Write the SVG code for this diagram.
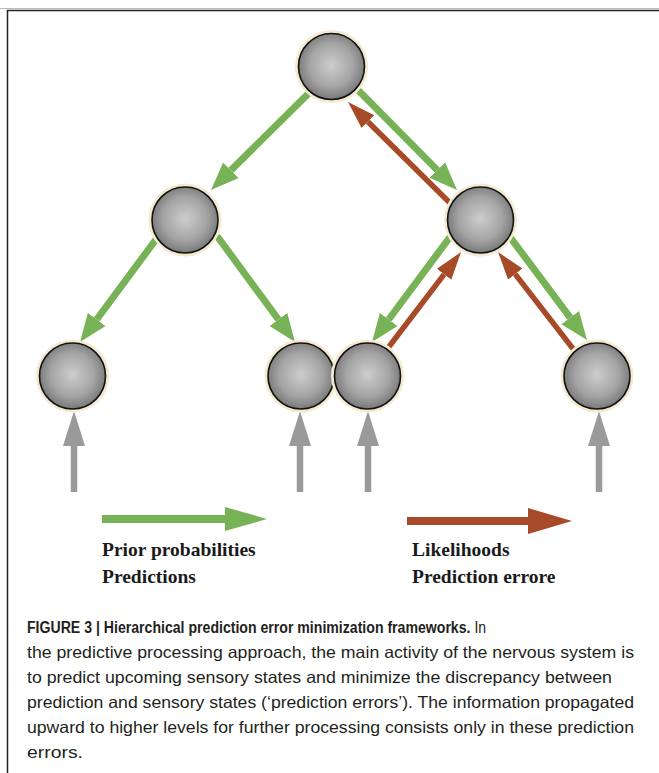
<svg xmlns="http://www.w3.org/2000/svg" width="659" height="773" viewBox="0 0 659 773">
<style>
.node{fill:url(#ball);stroke:#111;stroke-width:1.6}
.halo{fill:none;stroke:#f4ead0;stroke-width:4}
.g{stroke:#78b257;stroke-width:7;fill:none}
.b{stroke:#a64a28;stroke-width:5.5;fill:none}
.y{stroke:#9a9a9a;stroke-width:6.5;fill:none}
.leg{font-family:"Liberation Sans Narrow","Liberation Serif","Times New Roman",serif;font-weight:bold;font-size:19.5px;fill:#1a1a1a}
.cap{font-family:"Liberation Sans",Arial,sans-serif;font-size:16.5px;fill:#231f20}
.cap1{font-family:"Liberation Sans",Arial,sans-serif;font-size:17px;fill:#231f20}
</style>
<defs>
<radialGradient id="ball" cx="50%" cy="48%" r="55%">
<stop offset="0" stop-color="#cdcdcd"/>
<stop offset="0.6" stop-color="#a4a4a4"/>
<stop offset="1" stop-color="#727272"/>
</radialGradient>
<marker id="hg" markerUnits="userSpaceOnUse" markerWidth="30" markerHeight="24" refX="0" refY="11" orient="auto" viewBox="0 0 30 22">
<path d="M0,0 L28,11 L0,22 z" fill="#78b257"/>
</marker>
<marker id="hb" markerUnits="userSpaceOnUse" markerWidth="30" markerHeight="22" refX="0" refY="10" orient="auto" viewBox="0 0 30 20">
<path d="M0,1 L28,10 L0,19 z" fill="#a64a28"/>
</marker>
<marker id="hy" markerUnits="userSpaceOnUse" markerWidth="36" markerHeight="22" refX="0" refY="11" orient="auto" viewBox="0 0 36 22">
<path d="M0,0 L35,11 L0,22 z" fill="#9a9a9a"/>
</marker>
</defs>
<rect width="659" height="773" fill="#fff"/>
<line x1="0" y1="8.5" x2="659" y2="8.5" stroke="#bbb" stroke-width="1"/>
<path d="M7.5,773 V10.5 H659" fill="none" stroke="#222" stroke-width="1.5"/>

<g id="connectors">
<line class="g" x1="310" y1="92" x2="230.9" y2="170.3" marker-end="url(#hg)"/>
<line class="g" x1="358" y1="90" x2="437.3" y2="170.1" marker-end="url(#hg)"/>
<line class="g" x1="157" y1="238" x2="96.7" y2="319.5" marker-end="url(#hg)"/>
<line class="g" x1="217" y1="236" x2="278.4" y2="319.5" marker-end="url(#hg)"/>
<line class="g" x1="450" y1="237" x2="388.7" y2="319.5" marker-end="url(#hg)"/>
<line class="g" x1="510" y1="237" x2="570.2" y2="317.6" marker-end="url(#hg)"/>
<line class="b" x1="450" y1="203" x2="367.9" y2="121.7" marker-end="url(#hb)"/>
<line class="b" x1="388" y1="348" x2="444.1" y2="274.3" marker-end="url(#hb)"/>
<line class="b" x1="574" y1="350" x2="515.2" y2="274.1" marker-end="url(#hb)"/>
<line class="y" x1="74" y1="492" x2="74" y2="446" marker-end="url(#hy)"/>
<line class="y" x1="300" y1="492" x2="300" y2="446" marker-end="url(#hy)"/>
<line class="y" x1="368" y1="492" x2="368" y2="446" marker-end="url(#hy)"/>
<line class="y" x1="599" y1="492" x2="599" y2="446" marker-end="url(#hy)"/>
</g>

<g id="n-top"><circle class="halo" cx="331.5" cy="66.5" r="34.5"/><circle class="node" cx="331.5" cy="66.5" r="33"/></g>
<g id="n-midL"><circle class="halo" cx="185" cy="220" r="34.5"/><circle class="node" cx="185" cy="220" r="33"/></g>
<g id="n-midR"><circle class="halo" cx="480.5" cy="220" r="34.5"/><circle class="node" cx="480.5" cy="220" r="33"/></g>
<g id="n-b1"><circle class="halo" cx="72.5" cy="376" r="34.5"/><circle class="node" cx="72.5" cy="376" r="33"/></g>
<g id="n-b2"><circle class="halo" cx="301" cy="376" r="34.5"/><circle class="node" cx="301" cy="376" r="33"/></g>
<g id="n-b3"><circle class="halo" cx="367.5" cy="376" r="34.5"/><circle class="node" cx="367.5" cy="376" r="33"/></g>
<g id="n-b4"><circle class="halo" cx="597" cy="376" r="34.5"/><circle class="node" cx="597" cy="376" r="33"/></g>

<g id="legend-green">
<rect x="102" y="515" width="124" height="8" fill="#78b257"/>
<polygon points="225,507 267,519 225,531" fill="#78b257"/>
<text class="leg" x="102" y="556">Prior probabilities</text>
<text class="leg" x="102" y="583">Predictions</text>
</g>
<g id="legend-brown">
<rect x="407" y="517" width="122" height="8" fill="#a64a28"/>
<polygon points="528,508 572,521 528,534" fill="#a64a28"/>
<text class="leg" x="412" y="556">Likelihoods</text>
<text class="leg" x="412" y="583">Prediction errore</text>
</g>

<g id="caption">
<text class="cap1" x="0" y="0" transform="translate(27,633) scale(0.83,1)"><tspan font-weight="bold">FIGURE 3 | Hierarchical prediction error minimization frameworks.</tspan> In</text>
<text class="cap" x="27" y="658" textLength="607" lengthAdjust="spacingAndGlyphs">the predictive processing approach, the main activity of the nervous system is</text>
<text class="cap" x="27" y="683" textLength="585" lengthAdjust="spacingAndGlyphs">to predict upcoming sensory states and minimize the discrepancy between</text>
<text class="cap" x="27" y="708" textLength="607" lengthAdjust="spacingAndGlyphs">prediction and sensory states (‘prediction errors’). The information propagated</text>
<text class="cap" x="27" y="733" textLength="607" lengthAdjust="spacingAndGlyphs">upward to higher levels for further processing consists only in these prediction</text>
<text class="cap" x="27" y="758" textLength="56" lengthAdjust="spacingAndGlyphs">errors.</text>
</g>
</svg>
